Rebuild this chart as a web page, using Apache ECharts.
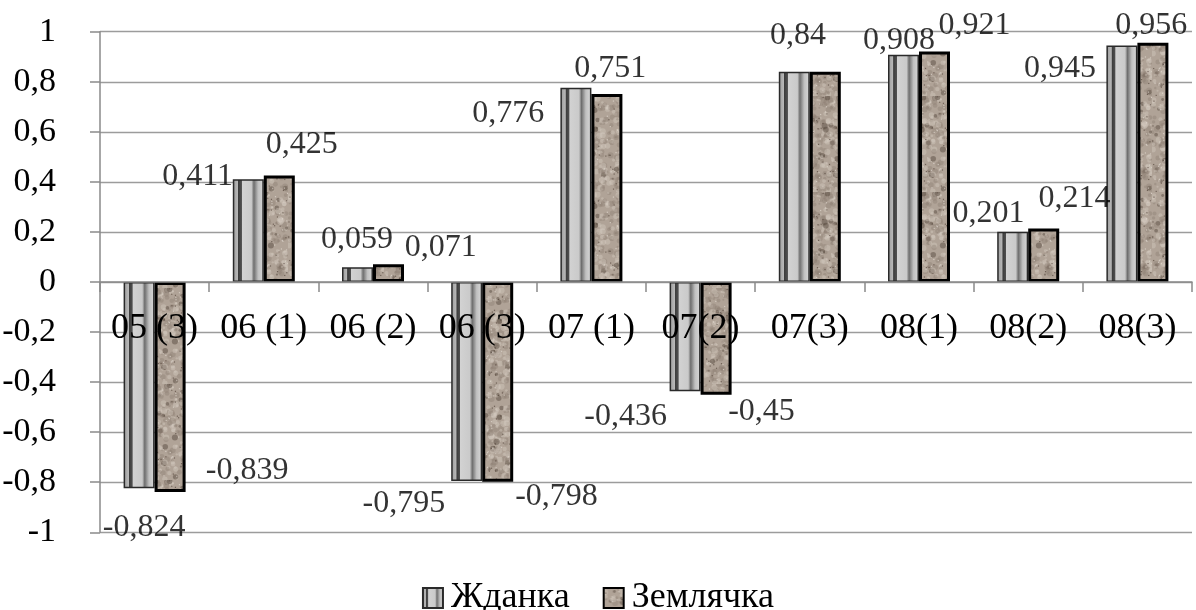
<!DOCTYPE html>
<html><head><meta charset="utf-8">
<script src="https://cdn.jsdelivr.net/npm/echarts@6/dist/echarts.min.js"></script>
<style>html,body{margin:0;padding:0;background:#fff}#c{width:1196px;height:610px}</style>
</head><body><div id="c"></div>
<script>
// ---- data ----
const categories = ['05 (3)', '06 (1)', '06 (2)', '06 (3)', '07 (1)', '07(2)', '07(3)', '08(1)', '08(2)', '08(3)'];
const seriesNames = ['Жданка', 'Землячка'];
const zhdanka = [-0.824, 0.411, 0.059, -0.795, 0.776, -0.436, 0.84, 0.908, 0.201, 0.945];
const zemlyachka = [-0.839, 0.425, 0.071, -0.798, 0.751, -0.45, 0.84, 0.921, 0.214, 0.956];
const showLabelA = [true, true, true, true, true, true, true, true, true, true];
const showLabelB = [true, true, true, true, true, true, false, true, true, true];
const yMin = -1, yMax = 1, yStep = 0.2;

// ---- style (label shifts relative to bar value point) ----
const labelShiftA = [[-10.5, 39.8], [-66.1, -3], [-16, -27.7], [-78.3, 22.2], [-83.2, 25.8], [-75, 25.3], [-11.8, -35.7], [-20, -14.3], [-39.7, -18.2], [-77.4, 22.7]];
const labelShiftB = [[92.6, -21.8], [38, -30.7], [67.8, -17], [74.3, 14.8], [18.9, -25.9], [60.9, 17.4], [0, 0], [55.5, -25.9], [46.3, -30.2], [13.8, -17.1]];

const FONT = '"Liberation Serif", "Times New Roman", serif';
const GRID_TOP = 31.7, GRID_BOTTOM = 77.7, H = 610;

// granite-like texture (deterministic)
function makeTexture() {
  const s = 96;
  const cv = document.createElement('canvas');
  cv.width = s; cv.height = s;
  const ctx = cv.getContext('2d');
  ctx.fillStyle = '#b0a397';
  ctx.fillRect(0, 0, s, s);
  let seed = 12345;
  const rnd = () => { seed = (seed * 1103515245 + 12345) % 2147483648; return seed / 2147483648; };
  for (let i = 0; i < 500; i++) {
    const x = rnd() * s, y = rnd() * s, r = 1 + rnd() * 2.2;
    const t = rnd();
    ctx.fillStyle = t < 0.45 ? 'rgba(135,120,108,0.35)' : (t < 0.9 ? 'rgba(215,205,195,0.4)' : 'rgba(80,66,56,0.45)');
    ctx.beginPath(); ctx.arc(x, y, r, 0, Math.PI * 2); ctx.fill();
  }
  for (let i = 0; i < 160; i++) {
    const x = rnd() * s, y = rnd() * s;
    ctx.fillStyle = rnd() < 0.5 ? 'rgba(70,55,45,0.6)' : 'rgba(235,228,220,0.6)';
    ctx.fillRect(x, y, 1.2, 1.2);
  }
  return cv;
}
const texture = makeTexture();

const grayFill = new echarts.graphic.LinearGradient(0, 0, 1, 0, [
  { offset: 0, color: '#9a9a9a' },
  { offset: 0.16, color: '#b8b8b8' },
  { offset: 0.18, color: '#3c3c3c' },
  { offset: 0.28, color: '#505050' },
  { offset: 0.3, color: '#d2d2d2' },
  { offset: 0.6, color: '#cacaca' },
  { offset: 0.68, color: '#6e6e6e' },
  { offset: 0.82, color: '#c0c0c0' },
  { offset: 1, color: '#dadada' }
]);

const fmt = v => String(v).replace('.', ',');

function labelSeries(values, shifts, shows) {
  return {
    type: 'scatter', silent: true, z: 20,
    symbolSize: 1, itemStyle: { color: 'rgba(0,0,0,0)' },
    data: values.map((v, i) => ({
      value: v,
      label: { show: shows[i], position: 'inside', offset: shifts[i], formatter: () => fmt(v) }
    })),
    label: { color: '#000', fontSize: 32, fontFamily: FONT, align: 'center', verticalAlign: 'middle' },
    tooltip: { show: false }
  };
}

// distance from grid bottom to the zero line, so the category axis sits on zero
const plotH = H - GRID_TOP - GRID_BOTTOM;
const zeroOffset = -plotH * (0 - yMin) / (yMax - yMin);

const chart = echarts.init(document.getElementById('c'), null, { renderer: 'canvas' });
chart.setOption({
  animation: false,
  backgroundColor: '#fff',
  grid: { left: 100, right: 4, top: GRID_TOP, bottom: GRID_BOTTOM, containLabel: false, outerBoundsMode: 'none' },
  legend: {
    data: seriesNames, left: 'center', top: 575,
    itemWidth: 20, itemHeight: 20, itemGap: 33, icon: 'rect',
    textStyle: { fontSize: 36, fontFamily: FONT, color: '#000', padding: [0, 0, 0, 3] }
  },
  xAxis: {
    type: 'category', data: categories, z: 10, position: 'bottom', offset: zeroOffset,
    axisLine: { onZero: false, lineStyle: { color: '#8a8a8a', width: 1.5 } },
    axisTick: { show: true, length: 10, interval: 0, alignWithLabel: false, lineStyle: { color: '#8a8a8a', width: 1.5 } },
    axisLabel: { interval: 0, fontSize: 36, fontFamily: FONT, color: '#000', margin: 29 },
    splitLine: { show: false }
  },
  yAxis: {
    type: 'value', min: yMin, max: yMax, interval: yStep,
    axisLine: { show: true, lineStyle: { color: '#8a8a8a', width: 1.5 } },
    axisTick: { show: true, length: 10, lineStyle: { color: '#8a8a8a', width: 1.5 } },
    axisLabel: { fontSize: 34, fontFamily: FONT, color: '#000', margin: 44,
      formatter: v => String(Math.round(v * 10) / 10).replace('.', ',') },
    splitLine: { show: true, lineStyle: { color: '#9c9c9c', width: 1.3 } }
  },
  series: [
    {
      name: seriesNames[0], type: 'bar', data: zhdanka, barWidth: 31, barGap: '0%',
      itemStyle: { color: grayFill, borderColor: '#2a2a2a', borderWidth: 1.5 }
    },
    {
      name: seriesNames[1], type: 'bar', data: zemlyachka, barWidth: 31, barGap: '0%',
      itemStyle: { color: { image: texture, repeat: 'repeat' }, borderColor: '#000', borderWidth: 3 }
    },
    labelSeries(zhdanka, labelShiftA, showLabelA),
    labelSeries(zemlyachka, labelShiftB, showLabelB)
  ]
});
</script>
</body></html>
